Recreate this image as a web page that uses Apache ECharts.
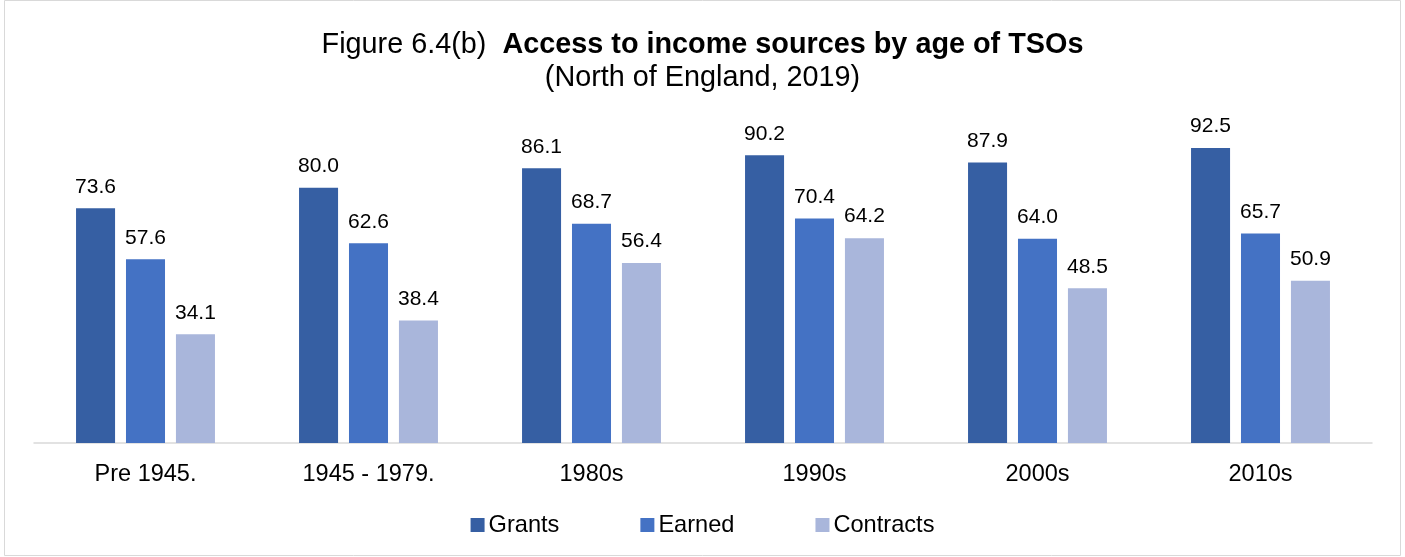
<!DOCTYPE html>
<html>
<head>
<meta charset="utf-8">
<script src="https://cdn.jsdelivr.net/npm/echarts@6/dist/echarts.min.js"></script>
<style>html,body{margin:0;padding:0;background:#fff}#c{width:1405px;height:557px}</style>
</head>
<body>
<div id="c"></div>
<script>
const categories = ['Pre 1945.', '1945 - 1979.', '1980s', '1990s', '2000s', '2010s'];
const grants = [73.6, 80.0, 86.1, 90.2, 87.9, 92.5];
const earned = [57.6, 62.6, 68.7, 70.4, 64.0, 65.7];
const contracts = [34.1, 38.4, 56.4, 64.2, 48.5, 50.9];
const seriesNames = ['Grants', 'Earned', 'Contracts'];
const colors = ['#365FA3', '#4472C4', '#A9B6DB'];

const chart = echarts.init(document.getElementById('c'), null, {renderer: 'canvas'});
const FONT = 'Liberation Sans, Arial, sans-serif';
function bar(name, data, color) {
  return {
    name: name, type: 'bar', data: data,
    barGap: '28%', barCategoryGap: '37.7%',
    itemStyle: {color: color},
    label: {show: true, position: 'top', distance: 11, color: '#000', fontSize: 21, fontFamily: FONT,
      formatter: p => p.value.toFixed(1)}
  };
}
chart.setOption({
  animation: false,
  backgroundColor: '#fff',
  graphic: [{type: 'rect', shape: {x: 4.5, y: 0.5, width: 1396, height: 555}, style: {fill: 'none', stroke: '#d9d9d9', lineWidth: 1}, silent: true}],
  title: {
    left: 'center', top: 26, itemGap: 4,
    text: '{a|Figure 6.4(b)  }{b|Access to income sources by age of TSOs}',
    textStyle: {rich: {
      a: {fontSize: 28.8, fontFamily: FONT, color: '#000', fontWeight: 'normal'},
      b: {fontSize: 28.8, fontFamily: FONT, color: '#000', fontWeight: 'bold'}
    }},
    subtext: '(North of England, 2019)',
    subtextStyle: {fontSize: 28.8, fontFamily: FONT, color: '#000'}
  },
  legend: {
    bottom: 15, left: 'center', itemWidth: 14, itemHeight: 14, itemGap: 81,
    icon: 'rect',
    textStyle: {fontSize: 23.6, fontFamily: FONT, color: '#000', padding: [0, 0, 0, -1]},
    data: seriesNames
  },
  grid: {left: 34, right: 33, top: 124, bottom: 114, containLabel: false},
  xAxis: {
    type: 'category', data: categories,
    axisLine: {lineStyle: {color: '#d9d9d9', width: 1.5}},
    axisTick: {show: false},
    axisLabel: {fontSize: 23.5, fontFamily: FONT, color: '#000', margin: 20}
  },
  yAxis: {type: 'value', min: 0, max: 100, show: false, splitLine: {show: false}},
  series: [bar(seriesNames[0], grants, colors[0]), bar(seriesNames[1], earned, colors[1]), bar(seriesNames[2], contracts, colors[2])]
});
</script>
</body>
</html>
